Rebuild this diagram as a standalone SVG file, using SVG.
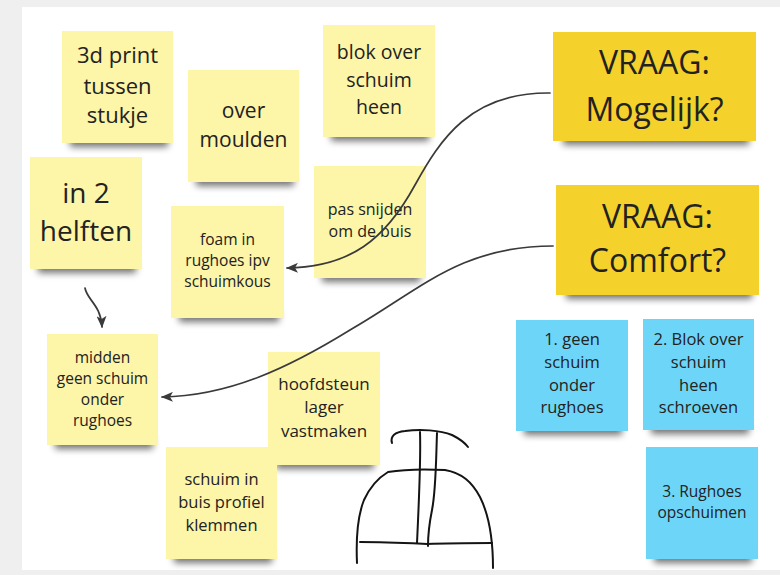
<svg xmlns="http://www.w3.org/2000/svg" width="780" height="575" viewBox="0 0 780 575">
  <defs>
    <style>
      .note-y { fill: #fdf5a7; }
      .note-q { fill: #f5d12c; }
      .note-b { fill: #6dd6f8; }
      .shadow { fill: #000; opacity: 0.55; filter: url(#blur); }
      .txt { font-family: "Open Sans", "Noto Sans", "DejaVu Sans", sans-serif; fill: #222; text-anchor: middle; }
      .link { fill: none; stroke: #3a3a3a; stroke-width: 1.7; stroke-linecap: round; }
      .sketch { fill: none; stroke: #141414; stroke-width: 2; stroke-linecap: round; stroke-linejoin: round; }
    </style>
    <filter id="blur" x="-20%" y="-100%" width="140%" height="300%">
      <feGaussianBlur stdDeviation="3.5"/>
    </filter>
    <marker id="arrow" viewBox="0 0 12 10" refX="11" refY="5" markerWidth="12" markerHeight="10" markerUnits="userSpaceOnUse" orient="auto">
      <path d="M0,0 L12,5 L0,10 L3,5 Z" fill="#3a3a3a"/>
    </marker>
  </defs>

  <!-- board background -->
  <rect x="0" y="0" width="780" height="575" fill="#efefef"/>
  <rect x="22" y="7" width="758" height="563" fill="#ffffff"/>

  <!-- yellow sticky notes -->
  <g id="note-3d-print">
    <rect class="shadow" x="70" y="135" width="98" height="12"/>
    <rect class="note-y" x="62" y="31" width="111" height="112"/>
    <text class="txt" font-size="22"><tspan x="117.5" y="63">3d print</tspan><tspan x="117.5" y="94">tussen</tspan><tspan x="117.5" y="123">stukje</tspan></text>
  </g>

  <g id="note-over-moulden">
    <rect class="shadow" x="196" y="174" width="98" height="12"/>
    <rect class="note-y" x="188" y="70" width="111" height="112"/>
    <text class="txt" font-size="21"><tspan x="243.5" y="118">over</tspan><tspan x="243.5" y="147">moulden</tspan></text>
  </g>

  <g id="note-in-2-helften">
    <rect class="shadow" x="38" y="261" width="98" height="12"/>
    <rect class="note-y" x="30" y="157" width="112" height="112"/>
    <text class="txt" font-size="28"><tspan x="86" y="203">in 2</tspan><tspan x="86" y="241">helften</tspan></text>
  </g>

  <g id="note-foam">
    <rect class="shadow" x="179" y="310" width="100" height="12"/>
    <rect class="note-y" x="171" y="206" width="113" height="112"/>
    <text class="txt" font-size="15.5"><tspan x="227.5" y="245">foam in</tspan><tspan x="227.5" y="266">rughoes ipv</tspan><tspan x="227.5" y="287">schuimkous</tspan></text>
  </g>

  <g id="note-midden">
    <rect class="shadow" x="55" y="437" width="98" height="12"/>
    <rect class="note-y" x="47" y="334" width="111" height="111"/>
    <text class="txt" font-size="15.5"><tspan x="102.5" y="363">midden</tspan><tspan x="102.5" y="384">geen schuim</tspan><tspan x="102.5" y="405">onder</tspan><tspan x="102.5" y="426">rughoes</tspan></text>
  </g>

  <g id="note-blok-over">
    <rect class="shadow" x="331" y="129" width="98" height="12"/>
    <rect class="note-y" x="323" y="25" width="112" height="112"/>
    <text class="txt" font-size="19.5"><tspan x="379" y="59">blok over</tspan><tspan x="379" y="87">schuim</tspan><tspan x="379" y="114">heen</tspan></text>
  </g>

  <g id="note-pas-snijden">
    <rect class="shadow" x="322" y="270" width="98" height="12"/>
    <rect class="note-y" x="314" y="166" width="112" height="112"/>
    <text class="txt" font-size="16"><tspan x="370" y="215">pas snijden</tspan><tspan x="370" y="237">om de buis</tspan></text>
  </g>

  <g id="note-hoofdsteun">
    <rect class="shadow" x="276" y="457" width="98" height="12"/>
    <rect class="note-y" x="268" y="352" width="112" height="113"/>
    <text class="txt" font-size="17"><tspan x="324" y="390">hoofdsteun</tspan><tspan x="324" y="413">lager</tspan><tspan x="324" y="437">vastmaken</tspan></text>
  </g>

  <g id="note-schuim-in-buis">
    <rect class="shadow" x="174" y="551" width="98" height="12"/>
    <rect class="note-y" x="166" y="447" width="111" height="112"/>
    <text class="txt" font-size="16.5"><tspan x="221.5" y="485">schuim in</tspan><tspan x="221.5" y="508">buis profiel</tspan><tspan x="221.5" y="531">klemmen</tspan></text>
  </g>

  <!-- question notes -->
  <g id="note-vraag-mogelijk">
    <rect class="shadow" x="563" y="133" width="186" height="12"/>
    <rect class="note-q" x="553" y="32" width="203" height="109"/>
    <text class="txt" font-size="32"><tspan x="654.5" y="74">VRAAG:</tspan><tspan x="654.5" y="121">Mogelijk?</tspan></text>
  </g>

  <g id="note-vraag-comfort">
    <rect class="shadow" x="566" y="287" width="186" height="12"/>
    <rect class="note-q" x="556" y="185" width="203" height="110"/>
    <text class="txt" font-size="32"><tspan x="657.5" y="228">VRAAG:</tspan><tspan x="657.5" y="272">Comfort?</tspan></text>
  </g>

  <!-- blue option notes -->
  <g id="note-optie-1">
    <rect class="shadow" x="524" y="423" width="98" height="12"/>
    <rect class="note-b" x="516" y="320" width="112" height="111"/>
    <text class="txt" font-size="16.5"><tspan x="572" y="345">1. geen</tspan><tspan x="572" y="368">schuim</tspan><tspan x="572" y="391">onder</tspan><tspan x="572" y="413">rughoes</tspan></text>
  </g>

  <g id="note-optie-2">
    <rect class="shadow" x="651" y="422" width="98" height="12"/>
    <rect class="note-b" x="643" y="319" width="111" height="111"/>
    <text class="txt" font-size="16.5"><tspan x="698.5" y="345">2. Blok over</tspan><tspan x="698.5" y="368">schuim</tspan><tspan x="698.5" y="391">heen</tspan><tspan x="698.5" y="413">schroeven</tspan></text>
  </g>

  <g id="note-optie-3">
    <rect class="shadow" x="654" y="551" width="98" height="12"/>
    <rect class="note-b" x="646" y="447" width="112" height="112"/>
    <text class="txt" font-size="15.5"><tspan x="702" y="497">3. Rughoes</tspan><tspan x="702" y="518">opschuimen</tspan></text>
  </g>

  <!-- connectors -->
  <g id="connectors">
    <path class="link" d="M550,93 C470,92 440,140 415,185 C385,240 350,267 287,268" marker-end="url(#arrow)"/>
    <path class="link" d="M553,246 C460,246 420,290 350,330 C290,367 230,396 162,397" marker-end="url(#arrow)"/>
    <path class="link" d="M85,288 C87,300 101,305 102,327" marker-end="url(#arrow)"/>
  </g>

  <!-- freehand sketch of the seat back -->
  <g id="sketch">
    <path class="sketch" d="M392,443 C390,436 395,432 405,431 C420,429 440,430 452,435 C460,439 465,443 468,447"/>
    <path class="sketch" d="M420,432 C421,460 419,500 417,543"/>
    <path class="sketch" d="M437,433 C436,460 436,490 432,510 C429,525 428,535 428,546"/>
    <path class="sketch" d="M357,563 C356,540 358,515 364,500 C370,487 378,478 388,472 C400,470 425,469 445,470 C462,473 472,482 480,497 C490,517 493,540 493,568"/>
    <path class="sketch" d="M360,542 C385,542 405,543 427,544 C450,543 470,543 492,543"/>
  </g>
</svg>
